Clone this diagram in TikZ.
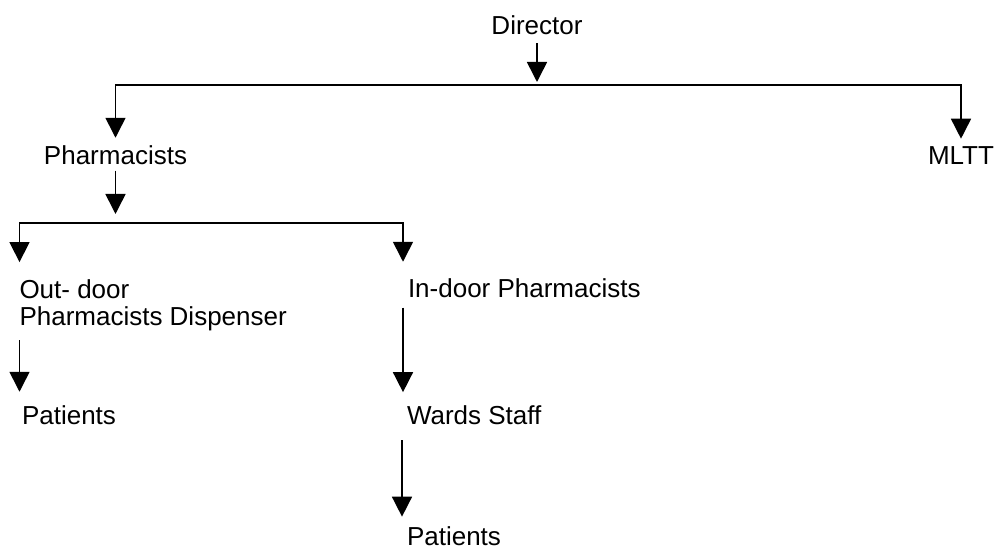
\documentclass[tikz,border=0pt]{standalone}
\usepackage{fontspec}
\setmainfont{Liberation Sans}
\usetikzlibrary{arrows.meta}
\begin{document}
\begin{tikzpicture}[x=0.5pt,y=-0.5pt,
  lbl/.style={inner sep=0pt, outer sep=0pt, font=\fontsize{13}{13.5}\selectfont},
  arr/.style={line width=0.8pt, -{Triangle[length=10pt,width=10pt]}}]
\useasboundingbox (0,0) rectangle (997,549);
\node[lbl,anchor=base] (dir) at (537,35) {Director};
\node[lbl,anchor=base] (pharm) at (115.5,165) {Pharmacists};
\node[lbl,anchor=base] (mltt) at (961,165) {MLTT};
\node[lbl,anchor=north west,align=left] (outdoor) at (19.5,279.5) {Out- door\\Pharmacists Dispenser};
\node[lbl,anchor=base west] (indoor) at (408,298) {In-door Pharmacists};
\node[lbl,anchor=base west] (pat1) at (22,425) {Patients};
\node[lbl,anchor=base west] (wards) at (407,425) {Wards Staff};
\node[lbl,anchor=base west] (pat2) at (407,545.5) {Patients};
\coordinate (j1) at (537,85);
\coordinate (j2) at (115.5,223);
% Director to first bar
\draw[arr, shorten <=4pt, shorten >=1.5pt] (dir.south) -- (j1);
\draw[arr, shorten >=4.2pt] (j1) -| (pharm.north);
\draw[arr, shorten >=4.2pt] (j1) -| (mltt.north);
% Pharmacists to second bar
\draw[arr, shorten <=2.75pt, shorten >=4.5pt] (pharm.south) -- (j2);
\draw[arr, shorten >=8.7pt] (j2) -| (outdoor.north west);
\draw[arr, shorten >=8.7pt] (j2) -| ([xshift=-2.5pt]indoor.north west);
% lower chains
\draw[arr, shorten <=4.7pt, shorten >=7.2pt] (outdoor.south west) -- (outdoor.south west |- pat1.north);
\draw[arr, shorten <=4.75pt, shorten >=7pt] ([xshift=-2.5pt]indoor.south west) -- ([xshift=-2.5pt]indoor.south west |- wards.north);
\draw[arr, shorten <=7.5pt, shorten >=5pt] ([xshift=-2.5pt]wards.south west) -- ([xshift=-2.5pt]wards.south west |- pat2.north);
\end{tikzpicture}
\end{document}
